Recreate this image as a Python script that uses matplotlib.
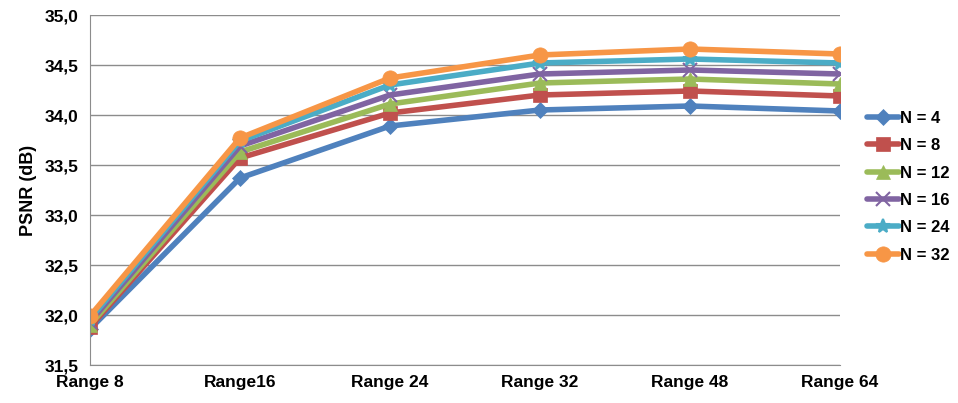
import matplotlib
matplotlib.use("Agg")
import matplotlib.pyplot as plt
from matplotlib.ticker import FuncFormatter, MultipleLocator

categories = ["Range 8", "Range16", "Range 24", "Range 32", "Range 48", "Range 64"]
series_labels = ["N = 4", "N = 8", "N = 12", "N = 16", "N = 24", "N = 32"]
n4 = [31.86, 33.37, 33.89, 34.05, 34.09, 34.04]
n8 = [31.88, 33.57, 34.02, 34.20, 34.24, 34.19]
n12 = [31.90, 33.63, 34.11, 34.32, 34.36, 34.31]
n16 = [31.93, 33.69, 34.20, 34.41, 34.45, 34.41]
n24 = [31.96, 33.74, 34.30, 34.52, 34.56, 34.52]
n32 = [31.99, 33.77, 34.37, 34.60, 34.66, 34.61]

series = [n4, n8, n12, n16, n24, n32]
colors = ["#4F81BD", "#C0504D", "#9BBB59", "#8064A2", "#4BACC6", "#F79646"]
markers = ["D", "s", "^", "x", "*", "o"]
msizes = [8, 10, 10, 10, 10, 11]

plt.rcParams["font.family"] = ["Liberation Sans", "DejaVu Sans"]

fig = plt.figure(figsize=(9.58, 4.03), dpi=100)
ax = fig.add_axes([90 / 958, 1 - 365 / 403, 750 / 958, 350 / 403])

x = list(range(len(categories)))
for vals, lab, c, m, ms in zip(series, series_labels, colors, markers, msizes):
    ax.plot(x, vals, color=c, lw=4, marker=m, markersize=ms,
            markeredgecolor=c, markeredgewidth=1.5 if m in "x*" else 0.5,
            label=lab, solid_capstyle="round")

ax.set_xlim(0, len(categories) - 1)
ax.set_ylim(31.5, 35.0)
ax.yaxis.set_major_locator(MultipleLocator(0.5))
ax.yaxis.set_major_formatter(FuncFormatter(lambda v, p: f"{v:.1f}".replace(".", ",")))
ax.set_xticks(x)
ax.set_xticklabels(categories)
ax.grid(axis="y", color="#8C8C8C", lw=1)
ax.set_axisbelow(True)
for s in ["top", "right"]:
    ax.spines[s].set_visible(False)
for s in ["left", "bottom"]:
    ax.spines[s].set_color("#8C8C8C")
ax.tick_params(axis="both", length=0, labelsize=12.5)
for t in ax.get_xticklabels() + ax.get_yticklabels():
    t.set_fontweight("bold")
ax.tick_params(axis="x", pad=7)
ax.tick_params(axis="y", pad=8)
ax.set_ylabel("PSNR (dB)", fontsize=13, fontweight="bold", labelpad=6)

leg = ax.legend(loc="upper left", bbox_to_anchor=(867 / 958, 1 - 111 / 403),
                bbox_transform=fig.transFigure, frameon=False,
                prop={"weight": "bold", "size": 12}, handlelength=1.9,
                handletextpad=0.05, labelspacing=0.74, borderaxespad=0,
                borderpad=0)

fig.savefig("out.png", dpi=100)
